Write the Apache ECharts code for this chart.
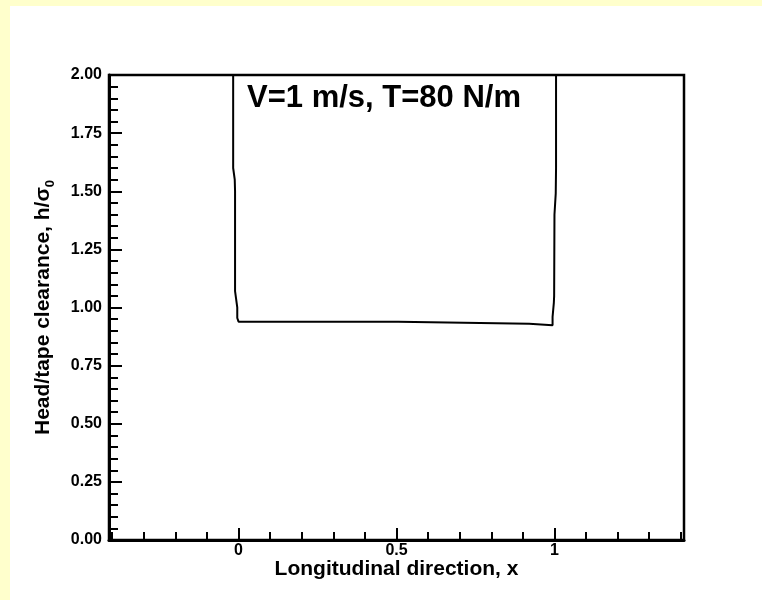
<!DOCTYPE html>
<html>
  <head>
    <meta charset="utf-8" />
    <title>Head/tape clearance</title>
    <script src="https://cdn.jsdelivr.net/npm/echarts@6/dist/echarts.min.js"></script>
    <style>
      body { margin: 0; background: #ffffcc; }
      #main { position: absolute; left: 10px; top: 6px; width: 752px; height: 594px; background: #fff; }
    </style>
  </head>
  <body>
    <div id="main"></div>
    <script type="text/javascript">
      // clearance curve (x along the tape, y = h/sigma0)
      var curveX = [-0.017, -0.017, -0.012, -0.011, -0.011, -0.008, -0.004, -0.004, 0.000,
                    0.505, 0.508, 0.920, 0.925, 0.994,
                    0.994, 0.998, 0.999, 1.000, 1.004, 1.005, 1.005];
      var curveY = [2.00, 1.60, 1.55, 1.50, 1.07, 1.04, 1.00, 0.955, 0.939,
                    0.939, 0.932, 0.930, 0.924, 0.924,
                    0.96, 1.02, 1.05, 1.40, 1.49, 1.60, 2.00];

      var xMajorTicks = [0, 0.5, 1];
      var xMinorTicks = [-0.4, -0.3, -0.2, -0.1, 0.1, 0.2, 0.3, 0.4,
                         0.6, 0.7, 0.8, 0.9, 1.1, 1.2, 1.3, 1.4];
      var xLabels = ["0", "0.5", "1"];

      var caseLabel = "V=1 m/s, T=80 N/m";

      var data = curveX.map(function (x, i) { return [x, curveY[i]]; });
      var font = "'Liberation Sans', Arial, Helvetica, sans-serif";

      var myChart = echarts.init(document.getElementById("main"), null, { renderer: "canvas" });

      var option = {
        animation: false,
        grid: {
          left: 99, top: 69, width: 575, height: 465,
          show: true, borderColor: "#000", borderWidth: 2.5
        },
        xAxis: [
          {
            type: "value", min: -0.41, max: 1.41,
            axisLine: { onZero: false, lineStyle: { color: "#000", width: 3 } },
            axisTick: { inside: true, length: 12, customValues: xMajorTicks,
                        lineStyle: { color: "#000", width: 2 } },
            axisLabel: {
              customValues: xMajorTicks, margin: 3,
              color: "#000", fontWeight: "bold", fontSize: 16, fontFamily: font,
              formatter: function (v) { return xLabels[xMajorTicks.indexOf(v)]; }
            },
            splitLine: { show: false },
            name: "Longitudinal direction, x",
            nameLocation: "middle", nameGap: 19, nameMoveOverlap: false,
            nameTextStyle: { color: "#000", fontWeight: "bold", fontSize: 21, fontFamily: font }
          },
          {
            type: "value", min: -0.41, max: 1.41, position: "bottom",
            axisLine: { show: false, onZero: false },
            axisTick: { inside: true, length: 8, customValues: xMinorTicks,
                        lineStyle: { color: "#000", width: 2 } },
            axisLabel: { show: false },
            splitLine: { show: false }
          }
        ],
        yAxis: {
          type: "value", min: 0, max: 2, interval: 0.25,
          axisLine: { show: true, onZero: false, lineStyle: { color: "#000", width: 3 } },
          axisTick: { inside: true, length: 13, lineStyle: { color: "#000", width: 2 } },
          minorTick: { show: true, splitNumber: 5, length: 9, lineStyle: { color: "#000", width: 2 } },
          axisLabel: {
            margin: 7, color: "#000", fontWeight: "bold", fontSize: 16, fontFamily: font,
            formatter: function (v) { return v.toFixed(2); }
          },
          splitLine: { show: false },
          name: "{a|Head/tape clearance, h/σ}{s|0}",
          nameLocation: "middle", nameGap: 52, nameMoveOverlap: false,
          nameTextStyle: {
            color: "#000", fontWeight: "bold", fontSize: 21, fontFamily: font,
            rich: {
              a: { color: "#000", fontWeight: "bold", fontSize: 21, fontFamily: font,
                   lineHeight: 24, verticalAlign: "top" },
              s: { color: "#000", fontWeight: "bold", fontSize: 13, fontFamily: font,
                   lineHeight: 13, padding: [15, 0, 0, 0], verticalAlign: "bottom" }
            }
          }
        },
        graphic: [
          {
            type: "text", left: 237, top: 77, z: 10,
            style: { text: caseLabel, fill: "#000", font: "bold 31px " + font }
          }
        ],
        series: [
          {
            type: "line", data: data, showSymbol: false, symbol: "none",
            lineStyle: { color: "#000", width: 2 }, clip: false
          }
        ]
      };

      myChart.setOption(option);
    </script>
  </body>
</html>
